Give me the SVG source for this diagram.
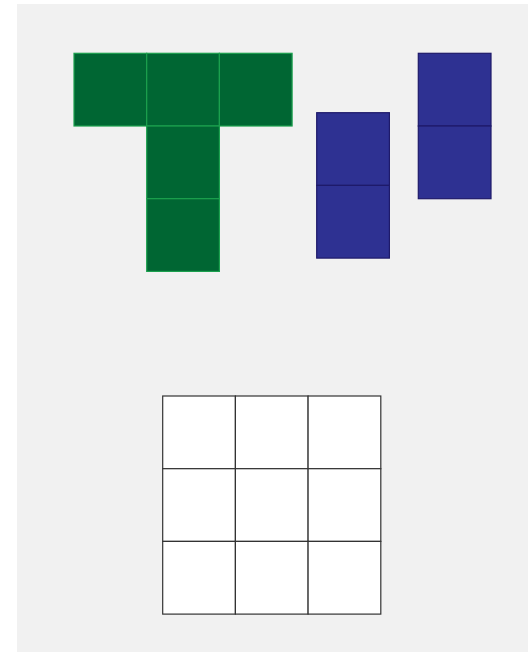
<svg xmlns="http://www.w3.org/2000/svg" width="528" height="653" viewBox="0 0 528 653">
<style>
.g{fill:#006633;stroke:#1BA04E;stroke-width:1.2}
.b{fill:#2E3192;stroke:#1E1A6A;stroke-width:1.2}
.w{fill:#ffffff;stroke:#333333;stroke-width:1.2}
</style>
<rect x="0" y="0" width="528" height="653" fill="#ffffff"/>
<rect x="17" y="4" width="511" height="648" fill="#f1f1f1"/>
<g id="t-piece">
<rect class="g" x="74" y="53.3" width="72.7" height="72.7"/>
<rect class="g" x="146.7" y="53.3" width="72.7" height="72.7"/>
<rect class="g" x="219.4" y="53.3" width="72.7" height="72.7"/>
<rect class="g" x="146.7" y="126" width="72.7" height="72.7"/>
<rect class="g" x="146.7" y="198.7" width="72.7" height="72.7"/>
</g>
<g id="domino-1">
<rect class="b" x="316.7" y="112.7" width="72.7" height="72.7"/>
<rect class="b" x="316.7" y="185.4" width="72.7" height="72.7"/>
</g>
<g id="domino-2">
<rect class="b" x="418.3" y="53.3" width="72.7" height="72.7"/>
<rect class="b" x="418.3" y="126" width="72.7" height="72.7"/>
</g>
<g id="grid">
<rect class="w" x="162.7" y="396" width="72.7" height="72.7"/>
<rect class="w" x="235.4" y="396" width="72.7" height="72.7"/>
<rect class="w" x="308.1" y="396" width="72.7" height="72.7"/>
<rect class="w" x="162.7" y="468.7" width="72.7" height="72.7"/>
<rect class="w" x="235.4" y="468.7" width="72.7" height="72.7"/>
<rect class="w" x="308.1" y="468.7" width="72.7" height="72.7"/>
<rect class="w" x="162.7" y="541.4" width="72.7" height="72.7"/>
<rect class="w" x="235.4" y="541.4" width="72.7" height="72.7"/>
<rect class="w" x="308.1" y="541.4" width="72.7" height="72.7"/>
</g>
<g id="connectors"></g>
</svg>
